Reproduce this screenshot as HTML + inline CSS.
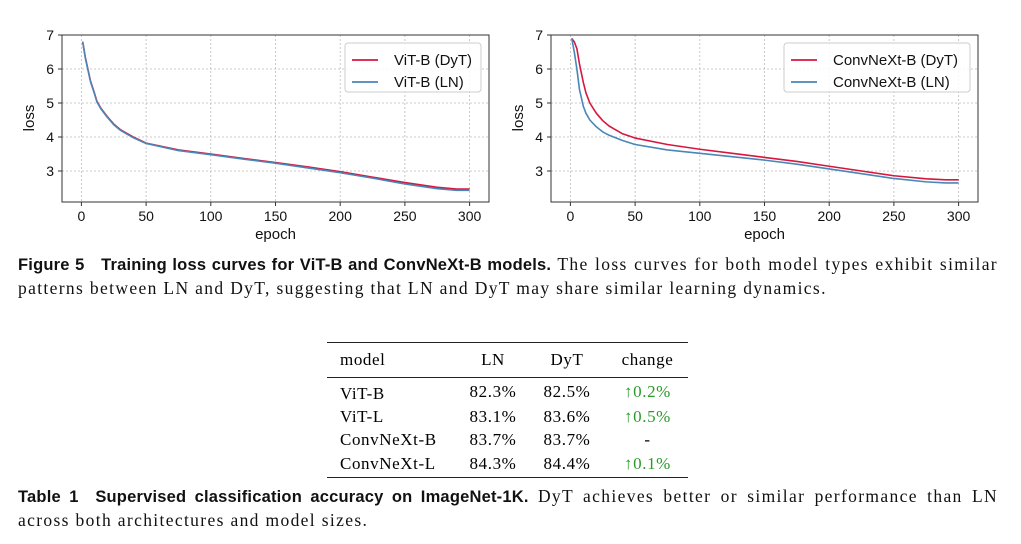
<!DOCTYPE html>
<html><head><meta charset="utf-8"><style>
body{margin:0;width:1021px;height:544px;background:#fff;overflow:hidden;position:relative;font-family:"Liberation Serif",serif;}
svg{position:absolute;left:0;top:0}
.cap{position:absolute;left:18px;width:980px;font-size:17.5px;letter-spacing:1.35px;line-height:23px;color:#111;text-align:justify;}
.cap b{font-family:"Liberation Sans",sans-serif;font-weight:bold;font-size:16.5px;letter-spacing:0.2px}
table{position:absolute;left:327px;top:342px;width:361px;border-collapse:collapse;font-size:17px;letter-spacing:0.6px;table-layout:fixed}
td{padding:0;height:23px;white-space:nowrap}
.g{color:#2a9a2a}
</style></head><body>
<svg id="chart" width="1021" height="544"></svg>
<div class="cap" style="top:253px"><b>Figure 5&nbsp;&nbsp; Training loss curves for ViT-B and ConvNeXt-B models.</b> The loss curves for both model types exhibit similar patterns between LN and DyT, suggesting that LN and DyT may share similar learning dynamics.</div>
<table>
<colgroup><col style="width:132px"><col style="width:68px"><col style="width:80px"><col style="width:81px"></colgroup>
<tr style="border-top:1.5px solid #222;border-bottom:1px solid #222"><td style="height:34px;padding-left:13px">model</td><td style="text-align:center">LN</td><td style="text-align:center">DyT</td><td style="text-align:center">change</td></tr>
<tr><td style="padding-left:13px;padding-top:4px">ViT-B</td><td style="text-align:center">82.3%</td><td style="text-align:center">82.5%</td><td class="g" style="text-align:center">↑0.2%</td></tr>
<tr><td style="padding-left:13px">ViT-L</td><td style="text-align:center">83.1%</td><td style="text-align:center">83.6%</td><td class="g" style="text-align:center">↑0.5%</td></tr>
<tr><td style="padding-left:13px">ConvNeXt-B</td><td style="text-align:center">83.7%</td><td style="text-align:center">83.7%</td><td style="text-align:center">-</td></tr>
<tr style="border-bottom:1.5px solid #222"><td style="padding-left:13px;height:26px">ConvNeXt-L</td><td style="text-align:center">84.3%</td><td style="text-align:center">84.4%</td><td class="g" style="text-align:center">↑0.1%</td></tr>
</table>
<div class="cap" style="top:485px"><b>Table 1&nbsp; Supervised classification accuracy on ImageNet-1K.</b> DyT achieves better or similar performance than LN across both architectures and model sizes.</div>
<script>
const epochs=[1,3,5,7,10,12,15,20,25,30,40,50,75,100,125,150,175,200,225,250,275,290,300];
const vitDyT=[6.8,6.35,6.0,5.65,5.3,5.05,4.85,4.6,4.38,4.22,4.0,3.82,3.62,3.5,3.37,3.25,3.12,2.98,2.82,2.66,2.52,2.47,2.47];
const vitLN=[6.8,6.33,5.98,5.63,5.28,5.03,4.83,4.58,4.36,4.2,3.98,3.81,3.6,3.48,3.35,3.23,3.09,2.95,2.79,2.62,2.48,2.43,2.43];
const cnxDyT=[6.9,6.8,6.6,6.15,5.6,5.3,5.0,4.7,4.48,4.32,4.1,3.97,3.78,3.64,3.52,3.4,3.28,3.14,3.0,2.86,2.77,2.74,2.74];
const cnxLN=[6.9,6.5,6.0,5.4,4.9,4.7,4.5,4.3,4.15,4.05,3.9,3.78,3.62,3.52,3.42,3.32,3.2,3.06,2.92,2.78,2.68,2.65,2.65];
const xTicks=[0,50,100,150,200,250,300];
const yTicks=[3,4,5,6,7];
const svg=document.getElementById('chart');
const NS='http://www.w3.org/2000/svg';
const FF='Liberation Sans, sans-serif';
function mk(t,a,p){const e=document.createElementNS(NS,t);for(const k in a)e.setAttribute(k,a[k]);(p||svg).appendChild(e);return e;}
function panel(name,L,R,series,labels,legX,legW){
  const T=35,B=202;
  const x0=L+(R-L)*15/330;
  const xs=v=>x0+(v)*(R-L)/330;
  const ys=v=>35+(7-v)*34;
  const g=mk('g',{});
  
  
  xTicks.forEach(t=>{
    const l=mk('line',{x1:xs(t),x2:xs(t),y1:T,y2:B,stroke:'#bbb','stroke-dasharray':'2,2','stroke-width':0.8},g);
    
    mk('line',{x1:xs(t),x2:xs(t),y1:B,y2:B+4,stroke:'#333'},g);
    const tx=mk('text',{x:xs(t),y:B+19,'text-anchor':'middle','font-size':14,'font-family':FF,fill:'#111'},g);
    tx.textContent=t;
    
  });
  yTicks.forEach(t=>{
    const l=mk('line',{x1:L,x2:R,y1:ys(t),y2:ys(t),stroke:'#bbb','stroke-dasharray':'2,2','stroke-width':0.8},g);
    
    mk('line',{x1:L-4,x2:L,y1:ys(t),y2:ys(t),stroke:'#333'},g);
    const tx=mk('text',{x:L-8,y:ys(t)+5,'text-anchor':'end','font-size':14,'font-family':FF,fill:'#111'},g);
    tx.textContent=t;
    
  });
  const cols=['#d6173f','#4a86b8'];
  series.forEach((s,i)=>{
    const p=mk('polyline',{points:epochs.map((e,j)=>xs(e)+','+ys(s[j])).join(' '),fill:'none',stroke:cols[i],'stroke-width':1.6,'stroke-linejoin':'round'},g);
    
    
  });
  mk('rect',{x:L,y:T,width:R-L,height:B-T,fill:'none',stroke:'#333','stroke-width':1},g);
  const xl=mk('text',{x:(L+R)/2,y:239,'text-anchor':'middle','font-size':15,'font-family':FF,fill:'#111'},g);
  xl.textContent='epoch';
  const yl=mk('text',{x:0,y:0,transform:`translate(${L-28},118) rotate(-90)`,'text-anchor':'middle','font-size':15,'font-family':FF,fill:'#111'},g);
  yl.textContent='loss';
  const lg=mk('g',{},g);
  
  mk('rect',{x:legX,y:43,width:legW,height:49,rx:3,fill:'#fff','fill-opacity':0.85,stroke:'#ccc'},lg);
  labels.forEach((lab,i)=>{
    const y=60+i*22;
    mk('line',{x1:legX+7,x2:legX+33,y1:y,y2:y,stroke:cols[i],'stroke-width':1.8},lg);
    const t=mk('text',{x:legX+49,y:y+5,'font-size':15,'font-family':FF,fill:'#111'},lg);
    t.textContent=lab;
    
  });
}
panel('vit-loss-chart',62,489,[vitDyT,vitLN],['ViT-B (DyT)','ViT-B (LN)'],345,136);
panel('convnext-loss-chart',551,978,[cnxDyT,cnxLN],['ConvNeXt-B (DyT)','ConvNeXt-B (LN)'],784,186);
</script>
</body></html>
